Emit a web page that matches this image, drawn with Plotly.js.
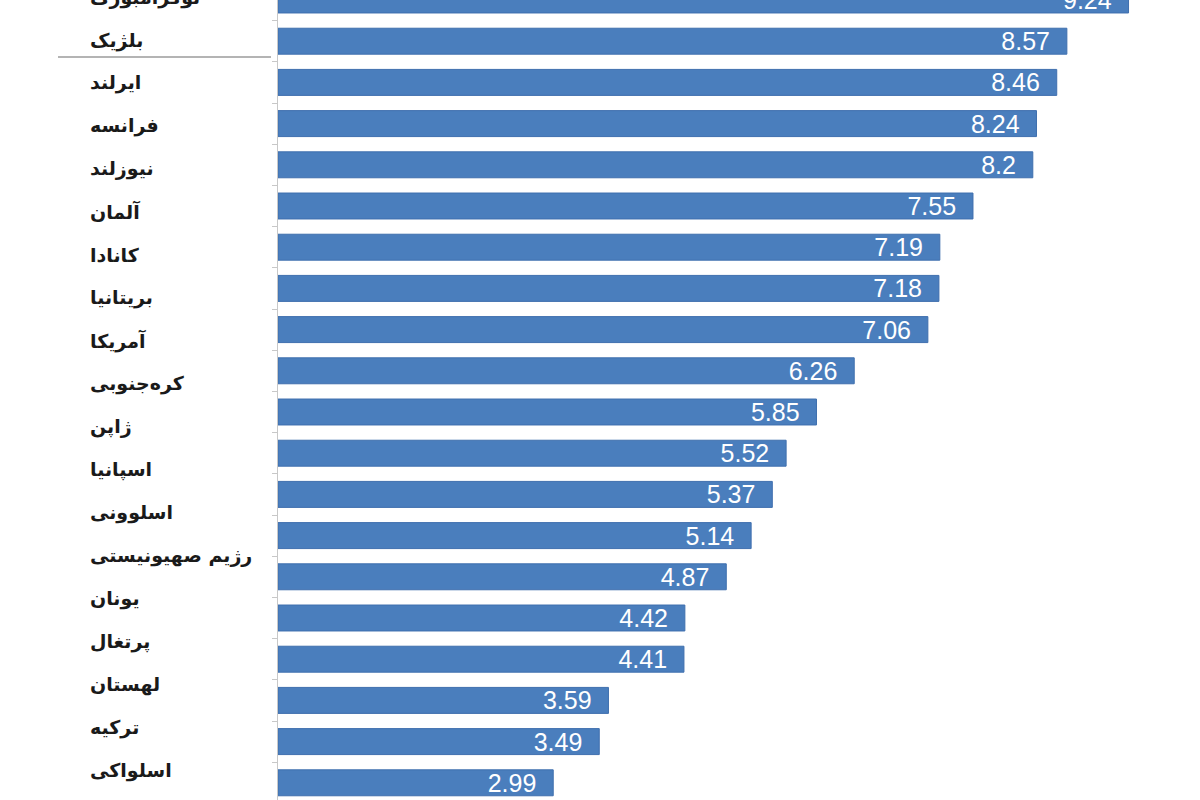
<!DOCTYPE html>
<html>
<head>
<meta charset="utf-8">
<script src="https://cdn.plot.ly/plotly-3.0.1.min.js"></script>
<style>html,body{margin:0;padding:0;background:#fff;}#chart{width:1200px;height:800px;}</style>
</head>
<body>
<div id="chart"></div>
<script>
// Bar values (top to bottom)
const barIds = ["b1","b2","b3","b4","b5","b6","b7","b8","b9","b10","b11","b12","b13","b14","b15","b16","b17","b18","b19","b20"];
const values = [9.24, 8.57, 8.46, 8.24, 8.2, 7.55, 7.19, 7.18, 7.06, 6.26, 5.85, 5.52, 5.37, 5.14, 4.87, 4.42, 4.41, 3.59, 3.49, 2.99];
// Country labels (top to bottom) as shown in the picture
const countries = ["لوکزامبورگ","بلژیک","ایرلند","فرانسه","نیوزلند","آلمان","کانادا","بریتانیا","آمریکا","کره‌جنوبی","ژاپن","اسپانیا","اسلوونی","رژیم صهیونیستی","یونان","پرتغال","لهستان","ترکیه","اسلواکی"];

const W = 1200, H = 800, L = 278;
const pw = W - L;
const pxPerUnit = 92.05;
const barStep = 41.2;      // px per bar row
const lblStep = 42.94;     // px per label row
const lblFirst = 1.5;      // px of label index 0 (kept inside the plot area)
const lblShift = 4.4;      // px the labels are moved up

const traces = [
  {
    type: 'bar', orientation: 'h',
    x: values, y: barIds,
    marker: {color: '#4a7ebd', line: {color: '#3f6fae', width: 1}},
    text: values.map(v => String(v) + '\u00a0\u00a0'),
    textposition: 'inside', insidetextanchor: 'end',
    constraintext: 'none',
    textfont: {family: 'Liberation Sans, Arial, sans-serif', size: 25, color: '#ffffff'},
    hoverinfo: 'skip'
  },
  {
    type: 'scatter', mode: 'markers',
    x: countries.map(() => 0), y: countries,
    yaxis: 'y2', marker: {opacity: 0, size: 1},
    hoverinfo: 'skip', showlegend: false
  }
];

const yTop = 0;
const layout = {
  width: W, height: H,
  margin: {l: L, r: 0, t: 0, b: 0, pad: 0},
  paper_bgcolor: '#ffffff', plot_bgcolor: '#ffffff',
  showlegend: false,
  bargap: 0.37,
  xaxis: {range: [0, pw / pxPerUnit], showgrid: false, zeroline: false, showticklabels: false, showline: false, ticks: ''},
  yaxis: {
    type: 'category', categoryorder: 'array', categoryarray: barIds,
    range: [yTop + H / barStep, yTop],
    showticklabels: false, showgrid: false, zeroline: false,
    showline: true, linecolor: '#c8c8c8', linewidth: 1,
    ticks: 'outside', tickson: 'boundaries', ticklen: 5, tickcolor: '#c8c8c8', tickwidth: 1
  },
  yaxis2: {
    type: 'category', categoryorder: 'array', categoryarray: countries,
    overlaying: 'y', side: 'left',
    range: [-lblFirst / lblStep + H / lblStep, -lblFirst / lblStep],
    showticklabels: false, showgrid: false, zeroline: false, showline: false, ticks: ''
  },
  annotations: countries.map(c => ({
    xref: 'paper', yref: 'y2', x: (88 - L) / pw, y: c,
    xanchor: 'left', yanchor: 'middle', showarrow: false, yshift: lblShift,
    text: '<b>' + c + '</b>',
    font: {family: 'DejaVu Sans, sans-serif', size: 19, color: '#1a1a1a'}
  })),
  shapes: [{
    type: 'line', xref: 'paper', yref: 'paper',
    x0: (58 - L) / pw, x1: (271 - L) / pw, y0: 1 - 57 / H, y1: 1 - 57 / H,
    line: {color: '#b4b4b4', width: 2}
  }]
};

Plotly.newPlot('chart', traces, layout, {displayModeBar: false, staticPlot: true});
</script>
</body>
</html>
